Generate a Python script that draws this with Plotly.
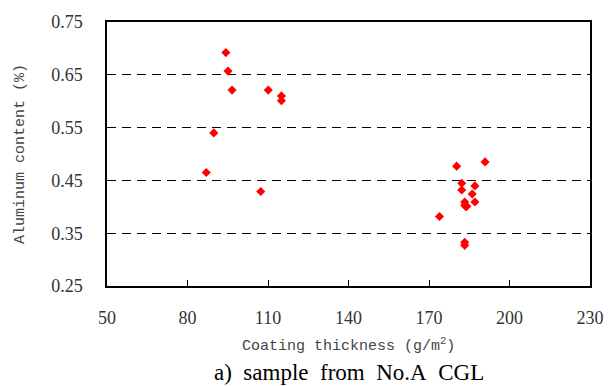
import plotly.graph_objects as go

# Data
coating_thickness = [94.3, 95.1, 96.6, 110.1, 115.0, 115.0, 89.8, 87.0, 107.3,
                     180.3, 190.9, 182.2, 187.1, 182.2, 186.1, 183.3, 187.1,
                     183.3, 184.1, 183.8, 173.9, 183.3, 183.3]
aluminum_content = [0.692, 0.657, 0.621, 0.621, 0.610, 0.601, 0.540, 0.465, 0.429,
                    0.477, 0.485, 0.4445, 0.4396, 0.4317, 0.4243, 0.409, 0.409,
                    0.403, 0.401, 0.400, 0.3815, 0.333, 0.327]

x_ticks = [50, 80, 110, 140, 170, 200, 230]
x_tick_labels = ["50", "80", "110", "140", "170", "200", "230"]
y_ticks = [0.25, 0.35, 0.45, 0.55, 0.65, 0.75]
y_tick_labels = ["0.25", "0.35", "0.45", "0.55", "0.65", "0.75"]

x_title = "Coating thickness (g/m<sup>2</sup>)"
y_title = "Aluminum content (%)"
caption = "a)\u00a0 sample\u00a0 from\u00a0 No.A\u00a0 CGL"

serif = "Times New Roman, Liberation Serif, serif"
tick_font = dict(family=serif, size=18, color="#333")
title_font = dict(family="Liberation Mono", size=15, color="#444")

fig = go.Figure()
fig.add_trace(go.Scatter(
    x=coating_thickness, y=aluminum_content, mode="markers",
    marker=dict(symbol="diamond", size=7, color="#ff0000", line=dict(width=0)),
    showlegend=False,
))

fig.update_layout(
    width=616, height=386,
    margin=dict(l=107, r=21, t=14, b=100),
    paper_bgcolor="white", plot_bgcolor="white",
    font=dict(family=serif, size=18, color="#222"),
    xaxis=dict(
        range=[50, 230], tickvals=x_ticks, ticktext=x_tick_labels,
        ticks="inside", ticklen=6,
        tickcolor="black", showgrid=False, zeroline=False,
        showline=True, linecolor="black", linewidth=1.5, mirror=True,
        tickfont=tick_font, ticklabelstandoff=15,
    ),
    yaxis=dict(
        range=[0.25, 0.75], tickvals=y_ticks, ticktext=y_tick_labels,
        ticks="", showgrid=True, gridcolor="black", gridwidth=1,
        griddash="9px,6px", zeroline=False,
        showline=True, linecolor="black", linewidth=1.5, mirror=True,
        tickfont=tick_font, ticklabelstandoff=19,
    ),
    annotations=[
        dict(text=x_title, xref="paper", yref="paper", x=0.5, y=0,
             xanchor="center", yanchor="middle", yshift=-59, showarrow=False,
             font=title_font),
        dict(text=y_title, xref="paper", yref="paper", x=0, y=0.5,
             xanchor="center", yanchor="middle", xshift=-87, textangle=-90,
             showarrow=False, font=title_font),
        dict(text=caption, xref="paper", yref="paper", x=0.5, y=0,
             xanchor="center", yanchor="middle", yshift=-86, showarrow=False,
             font=dict(family=serif, size=23, color="black")),
    ],
)

fig.write_html("out.html")
